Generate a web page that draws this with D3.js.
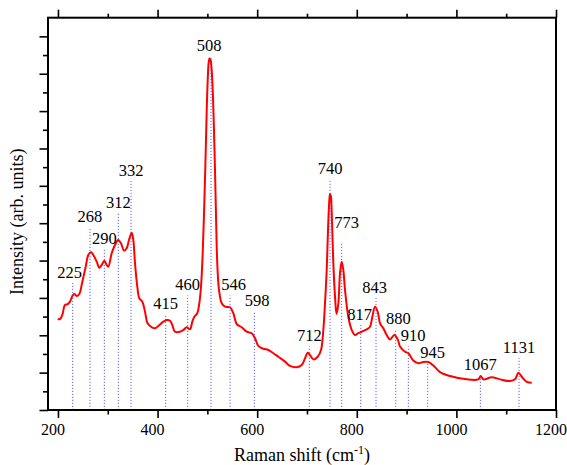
<!DOCTYPE html>
<html>
<head>
<meta charset="utf-8">
<script src="https://cdn.jsdelivr.net/npm/d3@7"></script>
<style>
body { margin: 0; background: #fff; }
</style>
</head>
<body>
<div id="chart"></div>
<script>
// Raman spectrum
const shift = [199.5, 204.1, 208.7, 214.1, 219.6, 224.2, 228.8, 232.8, 237.6, 242.9, 248.9, 255.7, 260.9, 266.3, 271.0,
    277.8, 283.0, 287.8, 293.1, 297.9, 301.1, 307.9, 314.5, 321.2, 326.6, 332.6, 338.0, 342.6, 348.1, 351.3,
    354.7, 359.3, 363.3, 369.4, 374.8, 379.4, 384.8, 394.9, 401.5, 411.5, 418.3, 425.0, 429.6, 435.0, 445.1,
    451.7, 458.5, 465.1, 469.8, 473.8, 479.8, 483.8, 487.2, 490.6, 493.2, 495.9, 498.7, 500.7, 502.7, 504.3,
    506.3, 508.3, 510.7, 512.7, 515.3, 517.3, 520.0, 523.4, 528.8, 535.4, 545.5, 552.1, 558.9, 568.9, 579.0,
    589.0, 595.7, 602.3, 612.3, 622.4, 632.4, 642.4, 655.9, 665.9, 679.4, 689.4, 696.1, 701.5, 706.1, 712.7,
    721.6, 728.2, 732.8, 736.2, 739.6, 742.2, 744.9, 746.3, 747.9, 749.7, 752.9, 756.3, 759.3, 763.0, 766.3,
    769.7, 773.0, 776.4, 783.0, 789.8, 796.5, 803.1, 809.9, 820.0, 826.6, 831.2, 836.6, 842.0, 846.7, 853.3,
    860.1, 866.7, 875.4, 882.2, 886.8, 896.9, 903.5, 913.5, 923.6, 933.6, 943.7, 953.7, 967.1, 987.2, 1020.7,
    1044.0, 1048.8, 1054.0, 1070.9, 1087.6, 1107.7, 1117.7, 1124.4, 1131.2, 1141.2, 1151.3];
const intensity = [4.87, 4.87, 5.09, 5.62, 5.67, 5.80, 6.10, 6.21, 6.10, 6.21, 6.87, 7.67, 8.30, 8.44, 8.30,
    7.94, 7.62, 7.76, 7.99, 7.76, 7.67, 8.39, 8.83, 9.10, 8.92, 8.53, 8.66, 9.10, 9.49, 9.10,
    7.85, 6.60, 5.98, 5.80, 5.26, 4.67, 4.50, 4.37, 4.50, 4.73, 4.82, 4.78, 4.55, 4.19, 4.19,
    4.28, 4.43, 4.32, 4.73, 4.99, 5.18, 5.71, 6.60, 8.39, 10.44, 13.02, 16.06, 17.67, 18.63, 18.82,
    18.74, 18.31, 17.13, 15.52, 12.85, 10.44, 7.76, 6.42, 5.71, 5.53, 5.50, 5.18, 4.60, 4.43, 4.19,
    4.11, 3.84, 3.43, 3.28, 3.21, 3.04, 2.85, 2.59, 2.36, 2.29, 2.41, 2.77, 3.07, 2.94, 2.71,
    2.85, 3.21, 4.28, 5.71, 7.49, 9.64, 11.24, 11.56, 11.46, 10.53, 7.85, 6.07, 5.14, 5.71, 7.32,
    7.94, 7.49, 6.42, 4.99, 4.28, 4.01, 4.11, 4.19, 4.32, 4.46, 4.99, 5.53, 5.26, 4.64, 4.37,
    4.01, 3.78, 4.01, 3.78, 3.40, 3.12, 3.04, 2.65, 2.50, 2.57, 2.57, 2.38, 2.03, 1.82, 1.64,
    1.64, 1.82, 1.64, 1.75, 1.64, 1.55, 1.64, 2.00, 1.78, 1.51, 1.46];

// marked bands: label, where the dotted line stands, how high it reaches
const peakLabels = ["225", "268", "290", "312", "332", "415", "460", "508", "546", "598",
    "712", "740", "773", "817", "843", "880", "910", "945", "1067", "1131"];
const peakPos = [229.6, 264.3, 293.1, 321.2, 346.7, 416.3, 460.5, 507.3, 545.5, 594.3,
    704.7, 746.3, 769.7, 807.9, 838.6, 878.2, 903.5, 942.4, 1048.1, 1125.8];
const peakTop = [6.80, 9.80, 8.64, 10.55, 12.26, 5.14, 6.13, 18.95, 6.13, 5.30,
    3.40, 12.37, 9.00, 4.55, 6.00, 4.34, 3.40, 2.52, 1.87, 2.78];

const xMajor = [200, 400, 600, 800, 1000, 1200];
const xMinor = [300, 500, 700, 900, 1100];
const yMajor = [0, 2, 4, 6, 8, 10, 12, 14, 16, 18, 20];
const yMinor = [1, 3, 5, 7, 9, 11, 13, 15, 17, 19];

// label nudges (px) where the text sits off its line
const nudge = { "225": [-3, 0], "508": [-2, 0], "546": [3.5, 0], "598": [2.7, 0], "773": [5, -9],
    "817": [-1, 0], "843": [-1.5, 0], "880": [2.6, 0], "910": [4.7, 0], "945": [4.8, 0] };

const FONT = '"Liberation Serif"';

const W = 567, H = 465;
const margin = { top: 17.7, right: 11, bottom: 55, left: 48 };
const width = W - margin.left - margin.right;
const height = H - margin.top - margin.bottom;

const x = d3.scaleLinear().domain([180, 1200]).range([0, width]);
const y = d3.scaleLinear().domain([0, 21]).range([height, 0]);

const svg = d3.select("#chart")
    .append("svg")
        .attr("width", W)
        .attr("height", H)
    .append("g")
        .attr("transform", `translate(${margin.left},${margin.top})`);

// dotted peak markers
const peaks = peakLabels.map((l, i) => ({ label: l, pos: peakPos[i], top: peakTop[i] }));
svg.append("g")
    .selectAll("line")
    .data(peaks)
    .join("line")
        .attr("x1", d => x(d.pos))
        .attr("x2", d => x(d.pos))
        .attr("y1", height)
        .attr("y2", d => y(d.top))
        .attr("stroke", "#5a5aff")
        .attr("stroke-width", 1)
        .attr("stroke-dasharray", "1.2,1.8");

// spectrum
const pts = shift.map((s, i) => [s, intensity[i]]);
const line = d3.line()
    .x(d => x(d[0]))
    .y(d => y(d[1]))
    .curve(d3.curveCatmullRom.alpha(0.5));
svg.append("path")
    .datum(pts)
    .attr("d", line)
    .attr("fill", "none")
    .attr("stroke", "#ff0000")
    .attr("stroke-width", 2)
    .attr("stroke-linejoin", "round");

// peak labels
svg.append("g")
    .selectAll("text")
    .data(peaks)
    .join("text")
        .attr("x", d => x(d.pos) + (nudge[d.label] ? nudge[d.label][0] : 0))
        .attr("y", d => y(d.top) - 5 + (nudge[d.label] ? nudge[d.label][1] : 0))
        .attr("text-anchor", "middle")
        .style("font-family", FONT)
        .style("font-size", "16.5px")
        .text(d => d.label);

// axes
function styleAxis(g) {
    g.select(".domain").remove();
    g.selectAll(".tick line").attr("stroke", "#000").attr("stroke-width", 1.6);
    g.selectAll(".tick text")
        .attr("fill", "#000")
        .attr("dx", -5.5)
        .style("font-family", FONT)
        .style("font-size", "16px");
}
svg.append("g")
    .attr("transform", `translate(0,${height})`)
    .call(d3.axisBottom(x).tickValues(xMajor).tickSize(8).tickPadding(6).tickFormat(d3.format("d")))
    .call(styleAxis);
svg.append("g")
    .attr("transform", `translate(0,${height})`)
    .call(d3.axisBottom(x).tickValues(xMinor).tickSize(4.5).tickFormat(""))
    .call(styleAxis);
svg.append("g")
    .call(d3.axisTop(x).tickValues(xMajor).tickSize(8).tickFormat(""))
    .call(styleAxis);
svg.append("g")
    .call(d3.axisTop(x).tickValues(xMinor).tickSize(4).tickFormat(""))
    .call(styleAxis);
svg.append("g")
    .call(d3.axisLeft(y).tickValues(yMajor).tickSize(8.5).tickFormat(""))
    .call(styleAxis);
svg.append("g")
    .call(d3.axisLeft(y).tickValues(yMinor).tickSize(5).tickFormat(""))
    .call(styleAxis);

// frame
svg.append("rect")
    .attr("x", 0)
    .attr("y", 0)
    .attr("width", width)
    .attr("height", height)
    .attr("fill", "none")
    .attr("stroke", "#000")
    .attr("stroke-width", 2);

// axis titles
const xt = svg.append("text")
    .attr("x", width / 2)
    .attr("y", height + 51)
    .attr("text-anchor", "middle")
    .style("font-family", FONT)
    .style("font-size", "18px");
xt.append("tspan").text("Raman shift (cm");
xt.append("tspan").attr("dy", -7).style("font-size", "12px").text("-1");
xt.append("tspan").attr("dy", 7).text(")");

svg.append("text")
    .attr("transform", "rotate(-90)")
    .attr("x", -(height / 2) - 8)
    .attr("y", -margin.left + 23)
    .attr("text-anchor", "middle")
    .style("font-family", FONT)
    .style("font-size", "18px")
    .text("Intensity (arb. units)");
</script>
</body>
</html>
